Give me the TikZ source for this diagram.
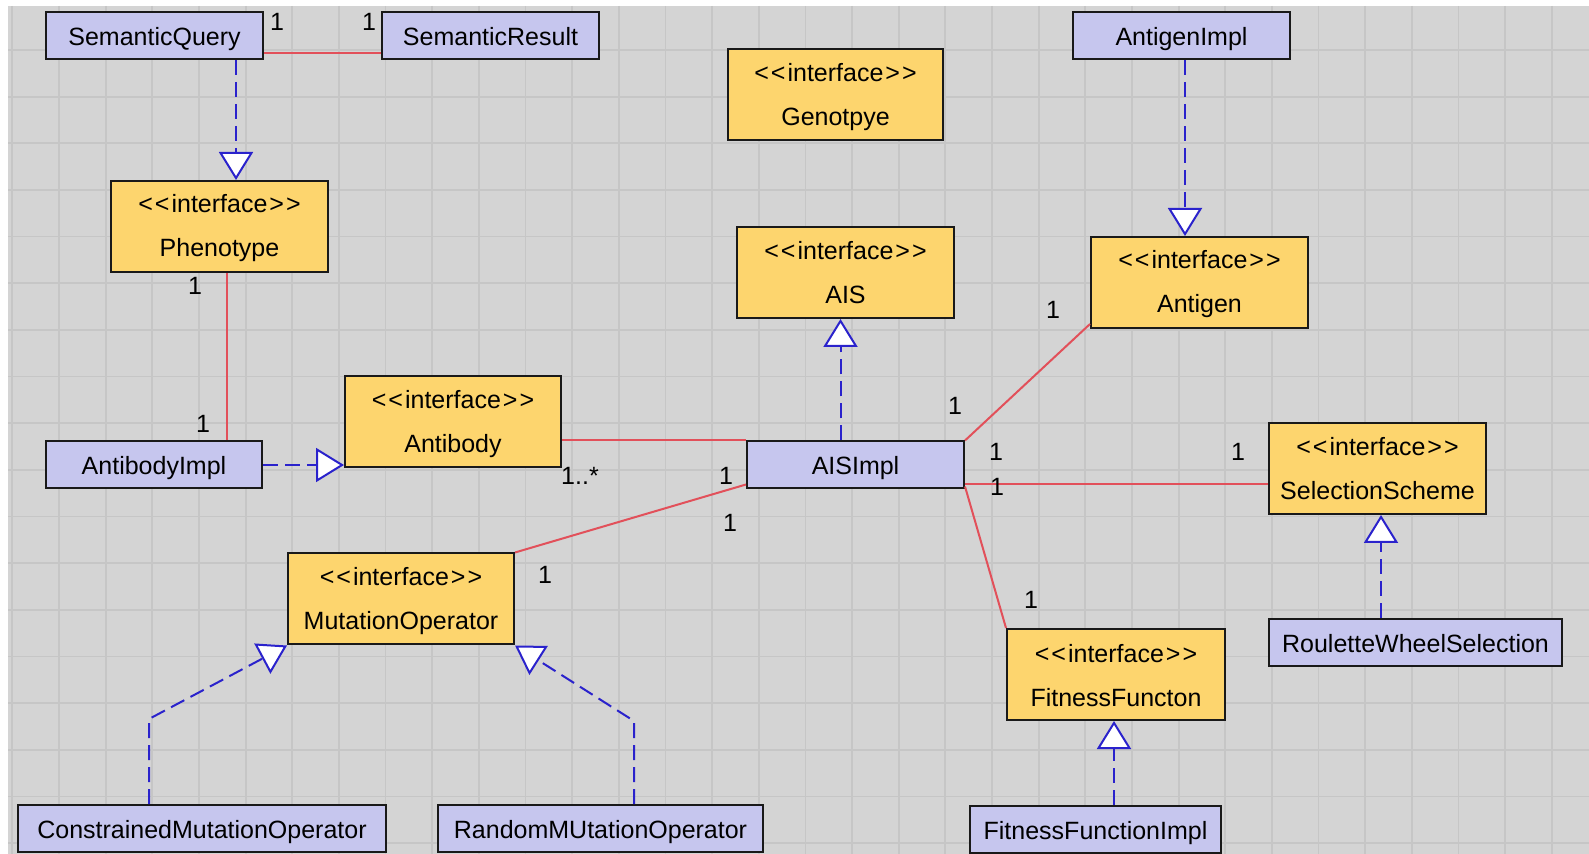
\documentclass[tikz,border=0pt]{standalone}
\usepackage{fontspec}
\setmainfont{Liberation Sans}
\usetikzlibrary{arrows.meta,calc}
\definecolor{canvas}{HTML}{D4D4D4}
\definecolor{gridline}{HTML}{C6C6C6}
\definecolor{classfill}{HTML}{C6C6EE}
\definecolor{ifacefill}{HTML}{FDD56E}
\definecolor{assocred}{HTML}{E2505A}
\definecolor{realblue}{HTML}{2A22CC}
% stereotype text, kept from turning into guillemets
\newcommand\stereo{\rule{0pt}{11pt}<{}\kern1pt<{}\kern1pt interface\kern1pt>{}\kern1pt>}
% interface name line with a fixed depth
\newcommand\iname[1]{#1\rule[-1.5pt]{0pt}{0pt}}
\begin{document}
\begin{tikzpicture}[x=0.5pt,y=-0.5pt,
  font=\fontsize{12.5}{22}\selectfont,
  box/.style={draw=black!90, line width=1pt, inner sep=0pt, align=center},
  cls/.style={box, fill=classfill, minimum height=23.5pt, text height=10pt, text depth=0pt},
  iface/.style={box, fill=ifacefill, minimum height=45.5pt},
  assoc/.style={draw=assocred, line width=1pt},
  real/.style={draw=realblue, line width=1pt, dash pattern=on 7.5pt off 3.5pt,
    -{Triangle[fill=white, length=14pt, width=17pt]}},
  mult/.style={inner sep=0pt}
]
% page and canvas
\useasboundingbox (0,0) rectangle (1589,854);
\fill[white] (0,0) rectangle (1589,854);
\fill[canvas] (8,6) rectangle (1589,854);
\begin{scope}
  \clip (8,6) rectangle (1589,854);
  \foreach \i in {0,...,33}
    \draw[gridline, line width=0.9pt] ({12.35+46.65*\i},6) -- ++(0,848);
  \foreach \j in {1,...,18}
    \draw[gridline, line width=0.9pt] (8,{3.35+46.65*\j}) -- ++(1581,0);
\end{scope}

% classes
\node[cls, minimum width=108.5pt] (sq)  at (154.5,35.5) {SemanticQuery};
\node[cls, minimum width=108.5pt] (sr)  at (490.5,35.5) {SemanticResult};
\node[cls, minimum width=108.5pt] (agi) at (1181.5,35.5) {AntigenImpl};
\node[cls, minimum width=108pt]   (abi) at (154,465) {AntibodyImpl};
\node[cls, minimum width=108.5pt] (aisi) at (855.5,465) {AISImpl};
\node[cls, minimum width=146.5pt] (rw)  at (1415.5,642.5) {RouletteWheelSelection};
\node[cls, minimum width=184pt]   (cmo) at (202,828.5) {ConstrainedMutationOperator};
\node[cls, minimum width=162.5pt] (rmo) at (600.5,828.5) {RandomMUtationOperator};
\node[cls, minimum width=125.5pt] (ffi) at (1095.5,829) {FitnessFunctionImpl};

% interfaces
\node[iface, minimum width=107.5pt] (geno) at (835.5,95) {\stereo\\\iname{Genotpye}};
\node[iface, minimum width=108.5pt] (ph)   at (219.5,226.5) {\stereo\\\iname{Phenotype}};
\node[iface, minimum width=108.5pt] (ais)  at (845.5,272.5) {\stereo\\\iname{AIS}};
\node[iface, minimum width=108.5pt] (ag)   at (1199.5,282.5) {\stereo\\\iname{Antigen}};
\node[iface, minimum width=108pt]   (ab)   at (453,422) {\stereo\\\iname{Antibody}};
\node[iface, minimum width=108.5pt] (ss)   at (1377.5,468.5) {\stereo\\\iname{SelectionScheme}};
\node[iface, minimum width=113pt]   (mo)   at (401,599) {\stereo\\\iname{MutationOperator}};
\node[iface, minimum width=109pt]   (ff)   at (1116,674.5) {\stereo\\\iname{FitnessFuncton}};

% associations
\draw[assoc] ($(sq.south east)+(0,-7)$) -- ($(sr.south west)+(0,-7)$);
\coordinate (phA) at ($(ph.south)+(7.5,0)$);
\draw[assoc] (phA) -- (phA |- abi.north);
\draw[assoc] (aisi.north west -| ab.east) -- (aisi.north west);
\draw[assoc] (aisi.north east) -- ($(ag.south west)+(0,-5)$);
\coordinate (aisR) at ($(aisi.south east)+(0,-5)$);
\draw[assoc] (aisR) -- (aisR -| ss.west);
\draw[assoc] ($(aisi.south east)+(0,-3)$) -- (ff.north west);
\draw[assoc] ($(aisi.south west)+(0,-5)$) -- (mo.north east);

% realizations
\coordinate (sqA) at ($(sq.south)+(81.5,0)$);
\draw[real] (sqA) -- (sqA |- ph.north);
\draw[real] (abi.east) -- (abi.east -| ab.west);
\coordinate (aisA) at ($(aisi.north)+(-15,0)$);
\draw[real] (aisA) -- (aisA |- ais.south);
\coordinate (agA) at ($(agi.south)+(3.5,0)$);
\draw[real] (agA) -- (agA |- ag.north);
\coordinate (rwA) at ($(rw.north)+(-34.5,0)$);
\draw[real] (rwA) -- (rwA |- ss.south);
\coordinate (ffiA) at ($(ffi.north)+(18.5,0)$);
\draw[real] (ffiA) -- (ffiA |- ff.south);
\coordinate (cmoA) at ($(cmo.north)+(-53,0)$);
\draw[real] (cmoA) -- ++(0,-85) -- (mo.south west);
\coordinate (rmoA) at ($(rmo.north)+(33.5,0)$);
\draw[real] (rmoA) -- ++(0,-83) -- (mo.south east);

% multiplicities
\node[mult] (m1)  at (277,22)  {1};
\node[mult] (m2)  at (369,22)  {1};
\node[mult] (m3)  at (195,286) {1};
\node[mult] (m4)  at (203,424) {1};
\node[mult] (m5)  at (580,476) {1..*};
\node[mult] (m6)  at (726,476) {1};
\node[mult] (m7)  at (730,523) {1};
\node[mult] (m8)  at (545,575) {1};
\node[mult] (m9)  at (955,406) {1};
\node[mult] (m10) at (1053,310) {1};
\node[mult] (m11) at (996,452) {1};
\node[mult] (m12) at (997,487) {1};
\node[mult] (m13) at (1238,452) {1};
\node[mult] (m14) at (1031,600) {1};
\end{tikzpicture}
\end{document}
